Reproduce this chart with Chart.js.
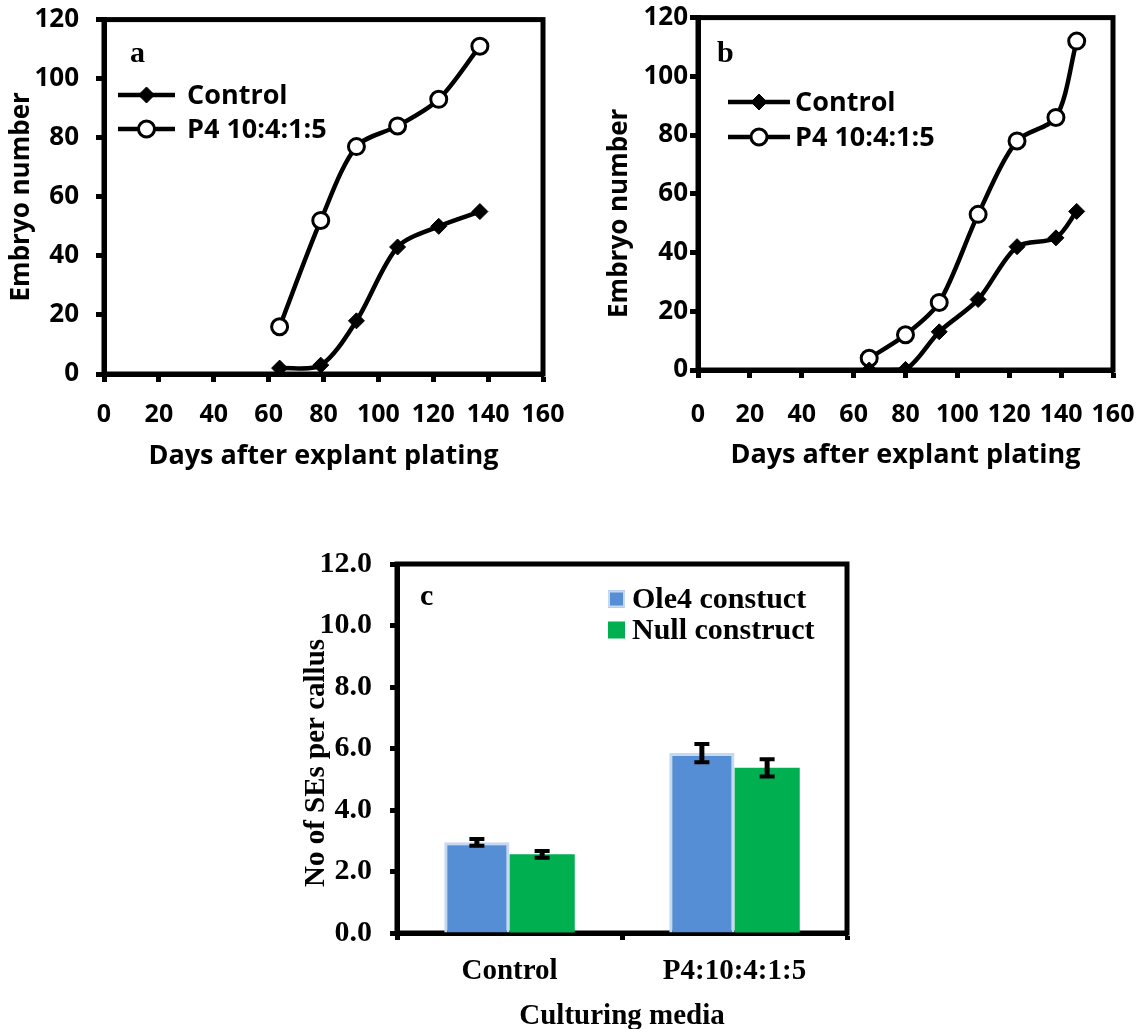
<!DOCTYPE html>
<html>
<head>
<meta charset="utf-8">
<title>Embryo number and SEs per callus</title>
<script src="https://cdn.jsdelivr.net/npm/chart.js@4.4.1/dist/chart.umd.min.js"></script>
<style>
  html, body { margin: 0; padding: 0; background: #fff; overflow: hidden; }
  #wrap { position: relative; width: 1143px; height: 1029px; overflow: hidden; }
  canvas { position: absolute; }
</style>
</head>
<body>
<div id="wrap">
  <canvas id="chartA" width="590" height="490" style="left:0;top:0"></canvas>
  <canvas id="chartB" width="590" height="490" style="left:575px;top:0"></canvas>
  <canvas id="chartC" width="600" height="510" style="left:290px;top:540px"></canvas>
</div>
<script>
// panel a
const daysA = [64, 79, 92, 107, 122, 137];
const controlA = [2, 3, 18, 43, 50, 55];
const p4A = [16, 52, 77, 84, 93, 111];

// panel b
const daysB = [66, 80, 93, 108, 123, 138, 146];
const controlB = [0, 0.2, 13, 24, 42, 45, 54];
const p4B = [4, 12, 23, 53, 78, 86, 112];

// panel c
const mediaLabels = ['Control', 'P4:10:4:1:5'];
const ole4Values = [2.95, 5.85];
const ole4Errors = [0.11, 0.30];
const nullValues = [2.56, 5.37];
const nullErrors = [0.11, 0.28];

const seriesNames = ['Control', 'P4 10:4:1:5'];
const barNames = ['Ole4 constuct', 'Null construct'];

const SANS = '"Open Sans", "DejaVu Sans", sans-serif';
const SERIF = '"Liberation Serif", "DejaVu Serif", serif';
const EN = '\u2002';   // en space, keeps labels off the tick marks

Chart.defaults.color = '#000';
Chart.defaults.animation = false;

function pairs(xs, ys) {
    return xs.map((x, i) => ({x: x, y: ys[i]}));
}

// box round the plot area
const frameBox = {
    id: 'frameBox',
    beforeDatasetsDraw(chart) {
        const {ctx, chartArea: a} = chart;
        ctx.save();
        ctx.strokeStyle = '#000';
        ctx.lineWidth = 5;
        ctx.strokeRect(a.left, a.top, a.right - a.left, a.bottom - a.top);
        ctx.restore();
    }
};

// panel letter a / b / c
const panelLetter = {
    id: 'panelLetter',
    afterDraw(chart, args, opts) {
        const ctx = chart.ctx;
        ctx.save();
        ctx.font = 'bold ' + opts.size + 'px ' + SERIF;
        ctx.fillStyle = '#000';
        ctx.textBaseline = 'alphabetic';
        ctx.fillText(opts.text, opts.x, opts.y);
        ctx.restore();
    }
};

// legend with line + marker, drawn inside the plot
const lineLegend = {
    id: 'lineLegend',
    afterDraw(chart, args, opts) {
        const ctx = chart.ctx;
        ctx.save();
        chart.data.datasets.forEach((ds, i) => {
            const y = opts.ys[i];
            ctx.strokeStyle = '#000';
            ctx.lineWidth = 4.5;
            ctx.beginPath();
            ctx.moveTo(opts.x1, y);
            ctx.lineTo(opts.x2, y);
            ctx.stroke();
            const cx = (opts.x1 + opts.x2) / 2;
            const r = ds.pointRadius;
            ctx.fillStyle = ds.pointBackgroundColor;
            ctx.lineWidth = ds.pointBorderWidth;
            ctx.beginPath();
            if (ds.pointStyle === 'circle') {
                ctx.arc(cx, y, r, 0, Math.PI * 2);
            } else {
                ctx.moveTo(cx, y - r);
                ctx.lineTo(cx + r, y);
                ctx.lineTo(cx, y + r);
                ctx.lineTo(cx - r, y);
                ctx.closePath();
            }
            ctx.fill();
            ctx.stroke();
            ctx.fillStyle = '#000';
            ctx.font = 'bold ' + opts.size + 'px ' + SANS;
            ctx.textBaseline = 'middle';
            ctx.fillText(ds.label, opts.textX, y + 1);
        });
        ctx.restore();
    }
};

// legend with squares for the bars
const boxLegend = {
    id: 'boxLegend',
    afterDraw(chart, args, opts) {
        const ctx = chart.ctx;
        ctx.save();
        chart.data.datasets.forEach((ds, i) => {
            const y = opts.ys[i];
            const s = opts.box;
            ctx.fillStyle = ds.backgroundColor;
            ctx.fillRect(opts.x, y - s / 2, s, s);
            if (ds.borderWidth) {
                ctx.strokeStyle = ds.borderColor;
                ctx.lineWidth = 2;
                ctx.strokeRect(opts.x + 1, y - s / 2 + 1, s - 2, s - 2);
            }
            ctx.fillStyle = '#000';
            ctx.font = 'bold ' + opts.size + 'px ' + SERIF;
            ctx.textBaseline = 'middle';
            ctx.fillText(ds.label, opts.textX, y + 1);
        });
        ctx.restore();
    }
};

// error bars on top of each bar
const errorBars = {
    id: 'errorBars',
    afterDatasetsDraw(chart) {
        const ctx = chart.ctx;
        const yScale = chart.scales.y;
        chart.data.datasets.forEach((ds, i) => {
            const meta = chart.getDatasetMeta(i);
            meta.data.forEach((bar, j) => {
                const v = ds.data[j];
                const e = ds.errors[j];
                const top = yScale.getPixelForValue(v + e);
                const bot = yScale.getPixelForValue(v - e);
                ctx.save();
                ctx.strokeStyle = '#000';
                ctx.lineWidth = 5;
                ctx.beginPath();
                ctx.moveTo(bar.x, top);
                ctx.lineTo(bar.x, bot);
                ctx.stroke();
                ctx.lineWidth = 4;
                ctx.beginPath();
                ctx.moveTo(bar.x - 7.5, top);
                ctx.lineTo(bar.x + 7.5, top);
                ctx.moveTo(bar.x - 7.5, bot);
                ctx.lineTo(bar.x + 7.5, bot);
                ctx.stroke();
                ctx.restore();
            });
        });
    }
};

function lineDatasets(days, control, p4) {
    return [{
        label: seriesNames[0],
        data: pairs(days, control),
        borderColor: '#000',
        borderWidth: 4.5,
        tension: 0.3,
        pointStyle: 'rectRot',
        pointRadius: 8,
        pointBackgroundColor: '#000',
        pointBorderColor: '#000',
        pointBorderWidth: 1
    }, {
        label: seriesNames[1],
        data: pairs(days, p4),
        borderColor: '#000',
        borderWidth: 4.5,
        tension: 0.3,
        pointStyle: 'circle',
        pointRadius: 8,
        pointBackgroundColor: '#fff',
        pointBorderColor: '#000',
        pointBorderWidth: 3
    }];
}

function lineOptions(cfg) {
    return {
        responsive: false,
        devicePixelRatio: 1,
        animation: false,
        layout: {padding: {top: cfg.top, right: cfg.right, left: 0, bottom: 0}},
        plugins: {
            legend: {display: false},
            tooltip: {enabled: false},
            panelLetter: cfg.letter,
            lineLegend: cfg.legend
        },
        scales: {
            x: {
                type: 'linear',
                min: 0,
                max: 160,
                afterFit: function(scale) { scale.height = cfg.xHeight; },
                ticks: {
                    stepSize: 20,
                    padding: cfg.xTickPad,
                    maxRotation: 0,
                    font: {family: SANS, size: 25, weight: 'bold'}
                },
                grid: {drawOnChartArea: false, tickLength: 8, tickWidth: 5, tickColor: '#000'},
                border: {color: '#000', width: 5},
                title: {
                    display: true,
                    text: 'Days after explant plating',
                    font: {family: SANS, size: 27, weight: 'bold'},
                    padding: {top: 0, bottom: cfg.xTitlePad}
                }
            },
            y: {
                min: 0,
                max: 120,
                afterFit: function(scale) { scale.width = cfg.yWidth; },
                ticks: {
                    stepSize: 20,
                    padding: cfg.yTickPad,
                    callback: function(v) { return v + cfg.yTickGap; },
                    font: {family: SANS, size: 26, weight: 'bold'}
                },
                grid: {drawOnChartArea: false, tickLength: 8, tickWidth: 5, tickColor: '#000'},
                border: {color: '#000', width: 5},
                title: {
                    display: true,
                    text: 'Embryo number' + cfg.yTitleShift,
                    font: {family: SANS, size: 26, weight: 'bold'},
                    padding: {top: cfg.yTitlePad, bottom: 0}
                }
            }
        }
    };
}

new Chart(document.getElementById('chartA').getContext('2d'), {
    type: 'line',
    data: {datasets: lineDatasets(daysA, controlA, p4A)},
    options: lineOptions({
        top: 17, right: 47, xHeight: 116, yWidth: 104,
        yTickPad: 4, yTickGap: EN, yTitlePad: 6, yTitleShift: '',
        xTickPad: 18, xTitlePad: 17,
        letter: {text: 'a', x: 130, y: 62, size: 30},
        legend: {x1: 118, x2: 175, ys: [95, 129], textX: 187, size: 27}
    }),
    plugins: [frameBox, panelLetter, lineLegend]
});

new Chart(document.getElementById('chartB').getContext('2d'), {
    type: 'line',
    data: {datasets: lineDatasets(daysB, controlB, p4B)},
    options: lineOptions({
        top: 17, right: 52, xHeight: 120, yWidth: 123,
        yTickPad: 2, yTickGap: '', yTitlePad: 29, yTitleShift: EN + EN + EN,
        xTickPad: 22, xTitlePad: 18,
        letter: {text: 'b', x: 142, y: 62, size: 30},
        legend: {x1: 153, x2: 215, ys: [102, 137], textX: 220, size: 27}
    }),
    plugins: [frameBox, panelLetter, lineLegend]
});

new Chart(document.getElementById('chartC').getContext('2d'), {
    type: 'bar',
    data: {
        labels: mediaLabels,
        datasets: [{
            label: barNames[0],
            data: ole4Values,
            errors: ole4Errors,
            backgroundColor: 'rgb(85, 142, 213)',
            borderColor: 'rgb(198, 217, 241)',
            borderWidth: 3,
            borderSkipped: 'bottom',
            categoryPercentage: 0.58,
            barPercentage: 1.0
        }, {
            label: barNames[1],
            data: nullValues,
            errors: nullErrors,
            backgroundColor: 'rgb(0, 176, 80)',
            borderWidth: 0,
            categoryPercentage: 0.58,
            barPercentage: 1.0
        }]
    },
    options: {
        responsive: false,
        devicePixelRatio: 1,
        animation: false,
        layout: {padding: {top: 24, right: 43, left: 0, bottom: 0}},
        plugins: {
            legend: {display: false},
            tooltip: {enabled: false},
            panelLetter: {text: 'c', x: 130, y: 65, size: 30},
            boxLegend: {x: 318, box: 17, ys: [59, 90], textX: 342, size: 30}
        },
        scales: {
            x: {
                afterFit: function(scale) { scale.height = 117; },
                ticks: {
                    padding: 14,
                    maxRotation: 0,
                    font: {family: SERIF, size: 29, weight: 'bold'}
                },
                grid: {drawOnChartArea: false, tickLength: 7, tickWidth: 5, tickColor: '#000', offset: true},
                border: {color: '#000', width: 5},
                title: {
                    display: true,
                    text: 'Culturing media',
                    font: {family: SERIF, size: 29, weight: 'bold'},
                    padding: {top: 0, bottom: 16}
                }
            },
            y: {
                min: 0,
                max: 12,
                afterFit: function(scale) { scale.width = 107; },
                ticks: {
                    stepSize: 2,
                    padding: 3,
                    callback: function(v) { return Number(v).toFixed(1) + EN; },
                    font: {family: SERIF, size: 30, weight: 'bold'}
                },
                grid: {drawOnChartArea: false, tickLength: 7, tickWidth: 5, tickColor: '#000'},
                border: {color: '#000', width: 5},
                title: {
                    display: true,
                    text: 'No of SEs per callus' + EN + EN,
                    font: {family: SERIF, size: 29, weight: 'bold'},
                    padding: {top: 9, bottom: 0}
                }
            }
        }
    },
    plugins: [frameBox, panelLetter, boxLegend, errorBars]
});
</script>
</body>
</html>
